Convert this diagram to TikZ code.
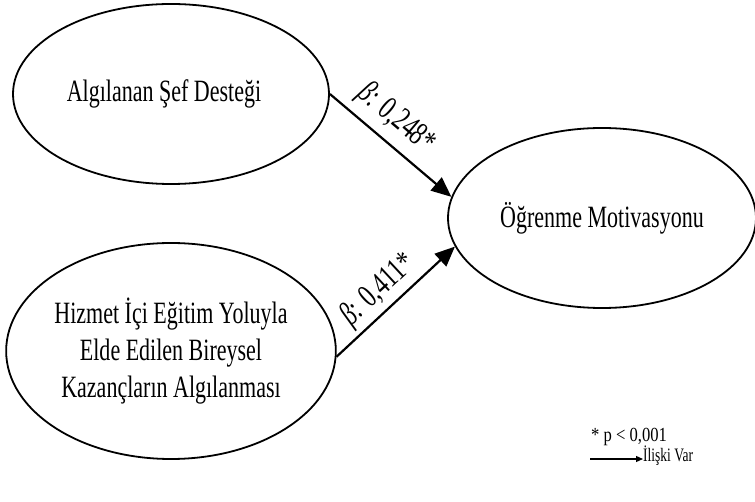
\documentclass[tikz,border=0pt]{standalone}
\usepackage{fontspec}
\setmainfont[FakeStretch=0.71]{Liberation Serif}
\newfontfamily\legendfont[FakeStretch=0.83]{Liberation Serif}
\usetikzlibrary{shapes.geometric,arrows.meta}
\begin{document}
\begin{tikzpicture}[x=1pt,y=-1pt,
  construct/.style={draw, ellipse, line width=1.8pt, inner sep=0pt, align=center,
    font=\fontsize{31}{37}\selectfont},
  path/.style={line width=2.2pt, -{Triangle[length=20pt,width=17pt]}},
  coef/.style={sloped, font=\fontsize{33}{36}\selectfont, inner sep=1pt}]
\useasboundingbox (0,0) rectangle (755,502);

% latent constructs
\node[construct, minimum width=316pt, minimum height=180pt] (sef) at (171,94)
  {Algılanan Şef Desteği\hspace*{14pt}};
\node[construct, minimum width=315pt, minimum height=216pt] (kaz) at (171,351)
  {Hizmet İçi Eğitim Yoluyla\\Elde Edilen Bireysel\\Kazançların Algılanması};
\node[construct, minimum width=308pt, minimum height=180pt] (mot) at (602,218)
  {Öğrenme Motivasyonu};

% structural paths with standardised coefficients
\draw[path] (sef.east) -- node[coef, pos=0.42, above=7pt] {\textit{β}: 0,248*} (mot.172);
\draw[path] (kaz.-2) -- node[coef, pos=0.47, above=3pt] {\textit{β}: 0,411*} (mot.191);

% legend
\node[anchor=west, inner sep=0pt, font=\legendfont\fontsize{20}{24}\selectfont] (sig) at (591,437) {* p < 0,001};
\coordinate (legstart) at (590,459);
\node[anchor=west, inner sep=0pt, font=\fontsize{19}{23}\selectfont] (rel) at (643,456) {İlişki Var};
\draw[line width=1.2pt, -{Triangle[length=7pt,width=6pt]}] (legstart) -- (rel.west |- legstart);
\end{tikzpicture}
\end{document}
